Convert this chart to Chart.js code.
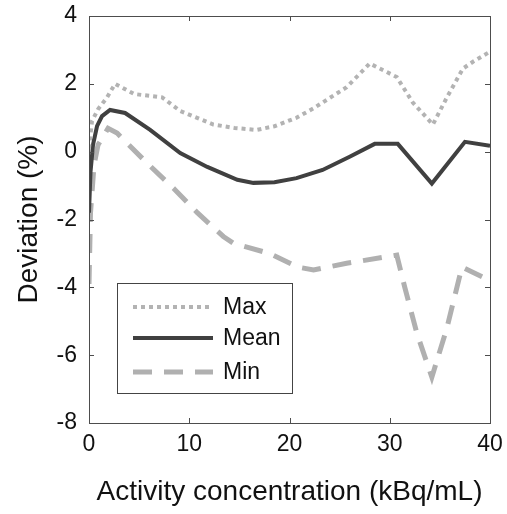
<!DOCTYPE html>
<html>
<head>
<meta charset="utf-8">
<script src="https://cdn.jsdelivr.net/npm/chart.js@4.4.1/dist/chart.umd.min.js"></script>
<style>
  html, body { margin: 0; padding: 0; background: #fff; }
  #wrap { width: 507px; height: 514px; }
</style>
</head>
<body>
<div id="wrap"><canvas id="chart1"></canvas></div>
<script>
// values (kBq/mL vs % deviation)
const maxX = [0, 0.3, 0.9, 1.8, 2.6, 4.5, 7.3, 9.1, 12.4, 14.5, 16.7, 18.5, 20.7, 22.4, 25.7, 28, 30.7, 32.3, 34.3, 35.7, 37.3, 38.3, 40];
const maxY = [0.1, 0.9, 1.25, 1.6, 2.0, 1.7, 1.6, 1.2, 0.8, 0.7, 0.64, 0.75, 1.0, 1.28, 1.9, 2.6, 2.2, 1.45, 0.8, 1.6, 2.45, 2.65, 2.95];

const meanX = [0, 0.15, 0.4, 0.8, 1.3, 2.1, 3.6, 6.1, 9.1, 11.8, 14.8, 16.4, 18.5, 20.7, 23.3, 26, 28.5, 30.8, 34.2, 37.5, 40];
const meanY = [-1.8, -0.6, 0.2, 0.75, 1.05, 1.23, 1.14, 0.64, -0.04, -0.45, -0.83, -0.92, -0.9, -0.78, -0.54, -0.15, 0.23, 0.23, -0.94, 0.29, 0.17];

const minX = [0, 0.15, 0.5, 0.9, 1.9, 2.8, 5.8, 8.5, 10.8, 13.4, 14.4, 18, 20.8, 22.4, 25.7, 30.7, 31.5, 32.7, 34.2, 35.7, 37.2, 40];
const minY = [-3.9, -1.8, -0.4, 0.2, 0.69, 0.55, -0.34, -1.1, -1.8, -2.5, -2.7, -3.0, -3.4, -3.49, -3.29, -3.05, -4.0, -5.35, -6.65, -5.2, -3.4, -3.8];

const seriesNames = ["Max", "Mean", "Min"];
const xTicks = [0, 10, 20, 30, 40];
const yTicks = [-8, -6, -4, -2, 0, 2, 4];

function pts(xs, ys) {
  return xs.map((x, i) => ({ x: x, y: ys[i] }));
}

// frame, inward ticks (all four sides) and legend box
const matlabAxes = {
  id: "matlabAxes",
  afterDatasetsDraw(chart) {
    const ctx = chart.ctx;
    const a = chart.chartArea;
    const xs = chart.scales.x, ys = chart.scales.y;
    ctx.save();
    ctx.strokeStyle = "#4d4d4d";
    ctx.lineWidth = 1;
    ctx.beginPath();
    xTicks.forEach(v => {
      const px = Math.round(xs.getPixelForValue(v)) + 0.5;
      ctx.moveTo(px, a.bottom); ctx.lineTo(px, a.bottom - 5);
      ctx.moveTo(px, a.top); ctx.lineTo(px, a.top + 5);
    });
    yTicks.forEach(v => {
      const py = Math.round(ys.getPixelForValue(v)) + 0.5;
      ctx.moveTo(a.left, py); ctx.lineTo(a.left + 5, py);
      ctx.moveTo(a.right, py); ctx.lineTo(a.right - 5, py);
    });
    ctx.stroke();
    ctx.strokeRect(Math.round(a.left) + 0.5, Math.round(a.top) + 0.5,
                   Math.round(a.right - a.left), Math.round(a.bottom - a.top));

    // legend
    const bx = 117, by = 283, bw = 175, bh = 110;
    ctx.fillStyle = "#fff";
    ctx.fillRect(bx, by, bw, bh);
    ctx.strokeStyle = "#444";
    ctx.strokeRect(bx + 0.5, by + 0.5, bw, bh);
    const rows = [307, 338, 372];
    chart.data.datasets.forEach((ds, i) => {
      ctx.beginPath();
      ctx.strokeStyle = ds.borderColor;
      ctx.lineWidth = ds.borderWidth;
      ctx.setLineDash(ds.borderDash || []);
      ctx.moveTo(133, rows[i]);
      ctx.lineTo(213, rows[i]);
      ctx.stroke();
      ctx.setLineDash([]);
      ctx.fillStyle = "#111";
      ctx.font = "23px 'Liberation Sans', Arial, sans-serif";
      ctx.textBaseline = "middle";
      ctx.fillText(ds.label, 223, rows[i] + 1);
    });
    ctx.restore();
  }
};

const ctx = document.getElementById("chart1").getContext("2d");
const myChart = new Chart(ctx, {
  type: "line",
  data: {
    datasets: [
      {
        label: seriesNames[0],
        data: pts(maxX, maxY),
        borderColor: "#b3b3b3",
        borderWidth: 4,
        borderDash: [4, 4],
        pointRadius: 0,
      },
      {
        label: seriesNames[1],
        data: pts(meanX, meanY),
        borderColor: "#404040",
        borderWidth: 4,
        pointRadius: 0,
      },
      {
        label: seriesNames[2],
        data: pts(minX, minY),
        borderColor: "#b0b0b0",
        borderWidth: 5,
        borderDash: [19, 12],
        pointRadius: 0,
      }
    ],
  },
  options: {
    responsive: true,
    maintainAspectRatio: false,
    animation: false,
    layout: { padding: { top: 16, right: 17, left: 0, bottom: 0 } },
    plugins: {
      legend: { display: false },
      tooltip: { enabled: false },
    },
    scales: {
      x: {
        type: "linear",
        min: 0,
        max: 40,
        afterBuildTicks: (s) => { s.ticks = xTicks.map(v => ({ value: v })); },
        afterFit: (s) => { s.height = 91; s.paddingLeft = 0; s.paddingRight = 0; },
        grid: { display: false, drawTicks: false },
        border: { display: false },
        ticks: { padding: 8, color: "#111", font: { family: "'Liberation Sans', Arial", size: 23 } },
        title: {
          display: true,
          text: "Activity concentration (kBq/mL)",
          color: "#111",
          font: { family: "'Liberation Sans', Arial", size: 28 },
          padding: { top: 0, bottom: 5 },
        },
      },
      y: {
        min: -8,
        max: 4,
        afterBuildTicks: (s) => { s.ticks = yTicks.map(v => ({ value: v })); },
        afterFit: (s) => { s.width = 89; s.paddingTop = 0; s.paddingBottom = 0; },
        grid: { display: false, drawTicks: false },
        border: { display: false },
        ticks: { padding: 12, color: "#111", font: { family: "'Liberation Sans', Arial", size: 23 } },
        title: {
          display: true,
          text: "Deviation (%)",
          color: "#111",
          font: { family: "'Liberation Sans', Arial", size: 28 },
          padding: { top: 12, bottom: 0 },
        },
      },
    },
  },
  plugins: [matlabAxes],
});
</script>
</body>
</html>
